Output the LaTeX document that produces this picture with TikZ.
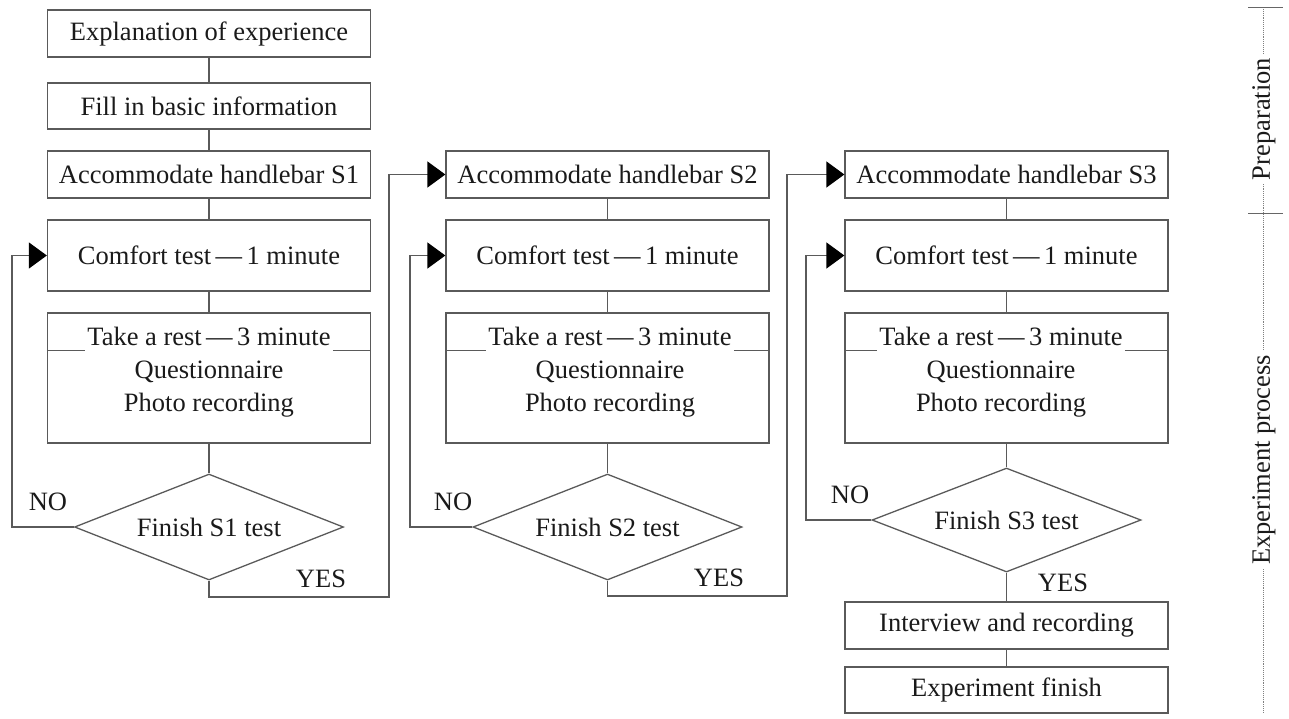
\documentclass[tikz,border=0pt]{standalone}
\usepackage{fontspec}
\setmainfont{Liberation Serif}
\usetikzlibrary{arrows.meta,shapes.geometric,calc}
\definecolor{lc}{HTML}{5A5A5A}
\definecolor{tc}{HTML}{1A1A1A}
\newcommand\myfs{\fontsize{26.5}{33}\selectfont}
\begin{document}
\begin{tikzpicture}[x=1pt,y=-1pt,
  line/.style={draw=lc, line width=1.3pt},
  arr/.style={-{Triangle[length=18pt,width=26pt,color=black]}},
  box/.style={draw=lc, line width=1.3pt, rectangle, minimum width=323pt, inner sep=0pt, font=\myfs, text=tc},
  dia/.style={draw=lc, line width=1.3pt, diamond, aspect=2.56, inner sep=0pt, minimum width=269pt, font=\myfs, text=tc},
  lbl/.style={font=\myfs, text=tc, inner sep=2pt},
  axis/.style={draw=gray, densely dotted, line width=0.9pt},
  tick/.style={draw=gray!80!black, line width=1pt}]
\useasboundingbox (0,0) rectangle (1289,718);

% column 1
\node[box, minimum height=47pt] (e1) at (209,33.5) {Explanation of experience};
\node[box, minimum height=46pt] (e2) at (209,106) {Fill in basic information};
\node[box, minimum height=47pt] (a1) at (209,174.5) {Accommodate handlebar S1};
\node[box, minimum height=71pt] (c1) at (209,255.5) {Comfort test\,—\,1 minute};
\node[box, minimum height=130pt] (r1) at (209,378) {};
\node[lbl] (t1) at (209,336) {Take a rest\,—\,3 minute};
\node[lbl, align=center] (b1) at (209,389) {Questionnaire\\Photo recording};
\node[dia, minimum height=106pt] (d1) at (209,527) {Finish S1 test};

% column 2
\node[box, minimum height=47pt] (a2) at (607.5,174.5) {Accommodate handlebar S2};
\node[box, minimum height=71pt] (c2) at (607.5,255.5) {Comfort test\,—\,1 minute};
\node[box, minimum height=130pt] (r2) at (607.5,378) {};
\node[lbl] (t2) at (610,336) {Take a rest\,—\,3 minute};
\node[lbl, align=center] (b2) at (610,389) {Questionnaire\\Photo recording};
\node[dia, minimum height=106pt] (d2) at (607.5,527) {Finish S2 test};

% column 3
\node[box, minimum height=47pt] (a3) at (1006.5,174.5) {Accommodate handlebar S3};
\node[box, minimum height=71pt] (c3) at (1006.5,255.5) {Comfort test\,—\,1 minute};
\node[box, minimum height=130pt] (r3) at (1006.5,378) {};
\node[lbl] (t3) at (1001,336) {Take a rest\,—\,3 minute};
\node[lbl, align=center] (b3) at (1001,389) {Questionnaire\\Photo recording};
\node[dia, minimum height=104pt] (d3) at (1006.5,520) {Finish S3 test};
\node[box, minimum height=47pt] (i3) at (1006.5,625.5) {Interview and recording};
\node[box, minimum height=46pt] (f3) at (1006.5,690) {Experiment finish};

% title separator lines in rest boxes
\foreach \k in {1,2,3}{
  \draw[line] ($(r\k.north west)+(0,38)$) -- ($(t\k.west |- r\k.north)+(0,38)$);
  \draw[line] ($(t\k.east |- r\k.north)+(0,38)$) -- ($(r\k.north east)+(0,38)$);
}

% straight connectors
\draw[line] (e1) -- (e2);
\draw[line] (e2) -- (a1);
\draw[line] (a1) -- (c1);
\draw[line] (c1) -- (r1);
\draw[line] (r1) -- (d1);
\draw[line] (a2) -- (c2);
\draw[line] (c2) -- (r2);
\draw[line] (r2) -- (d2);
\draw[line] (a3) -- (c3);
\draw[line] (c3) -- (r3);
\draw[line] (r3) -- (d3);
\draw[line] (d3) -- (i3);
\draw[line] (i3) -- (f3);

% loop coordinates
\coordinate (n1) at (12,0);
\coordinate (n2) at (410,0);
\coordinate (n3) at (806,0);
\coordinate (y1) at (389,597);
\coordinate (y2) at (787,596);

% NO loops
\draw[line, arr] (d1.west) -- (d1.west -| n1) |- (c1.west);
\draw[line, arr] (d2.west) -- (d2.west -| n2) |- (c2.west);
\draw[line, arr] (d3.west) -- (d3.west -| n3) |- (c3.west);
% YES connectors
\draw[line, arr] (d1.south) |- (y1) |- (a2.west);
\draw[line, arr] (d2.south) |- (y2) |- (a3.west);

% labels
\node[lbl] (no1) at (48,502) {NO};
\node[lbl] (yes1) at (321,579) {YES};
\node[lbl] (no2) at (453,502) {NO};
\node[lbl] (yes2) at (719,578) {YES};
\node[lbl] (no3) at (850,495) {NO};
\node[lbl] (yes3) at (1063,583) {YES};

% right axis
\coordinate (ax0) at (1263,7);
\coordinate (ax1) at (1263,713);
\coordinate (tk1a) at (1248,7);
\coordinate (tk1b) at (1283,7);
\coordinate (tk2a) at (1248,213);
\coordinate (tk2b) at (1283,213);
\draw[axis] (ax0) -- (ax1);
\draw[tick] (tk1a) -- (tk1b);
\draw[tick] (tk2a) -- (tk2b);
\node[lbl, rotate=90, fill=white, inner xsep=4pt] (prep) at (1264,119) {Preparation};
\node[lbl, rotate=90, fill=white, inner xsep=4pt] (expp) at (1264,460) {Experiment process};
\end{tikzpicture}
\end{document}
